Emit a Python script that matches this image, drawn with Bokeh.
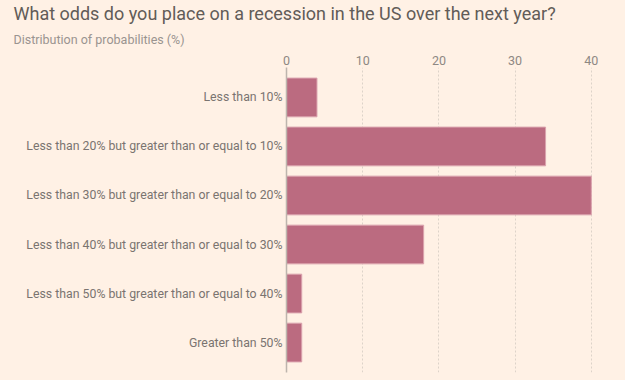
from bokeh.plotting import figure
from bokeh.models import FactorRange, Range1d, Title, FixedTicker
from bokeh.embed import file_html
from bokeh.resources import INLINE

categories = [
    "Less than 10%",
    "Less than 20% but greater than or equal to 10%",
    "Less than 30% but greater than or equal to 20%",
    "Less than 40% but greater than or equal to 30%",
    "Less than 50% but greater than or equal to 40%",
    "Greater than 50%",
]
values = [4, 34, 40, 18, 2, 2]
x_ticks = [0, 10, 20, 30, 40]

BG = "#fff1e5"
FONT = "Roboto"

p = figure(
    width=625, height=380,
    y_range=FactorRange(factors=list(reversed(categories)), range_padding=0.037),
    x_range=Range1d(0, 41.6),
    output_backend="svg", toolbar_location=None,
    x_axis_location="above",
    background_fill_color=BG, border_fill_color=BG,
    min_border_left=286, min_border_right=22, min_border_top=67, min_border_bottom=8,
)
p.outline_line_color = None

p.hbar(y=categories, right=values, left=0, height=0.79,
       fill_color="#bb6b80", line_color="#dba3ae", line_width=1)

# axes
xa = p.xaxis[0]
xa.ticker = FixedTicker(ticks=x_ticks)
xa.axis_line_color = None
xa.major_tick_line_color = None
xa.minor_tick_line_color = None
xa.major_tick_out = 0
xa.major_tick_in = 0
xa.minor_tick_out = 0
xa.major_label_text_font = FONT
xa.major_label_text_font_size = "12.5px"
xa.major_label_text_color = "#8e8883"
xa.major_label_standoff = 3

ya = p.yaxis[0]
ya.axis_line_color = "#bdb5ad"
ya.axis_line_width = 1.5
ya.major_tick_line_color = None
ya.minor_tick_line_color = None
ya.major_tick_out = 0
ya.major_tick_in = 0
ya.minor_tick_out = 0
ya.major_label_text_font = FONT
ya.major_label_text_font_size = "12.3px"
ya.major_label_text_color = "#7a7470"
ya.major_label_standoff = 4

p.ygrid.grid_line_color = None
p.xgrid.ticker = FixedTicker(ticks=[10, 20, 30, 40])
p.xgrid.grid_line_color = "#ddd3c9"
p.xgrid.grid_line_dash = "2 2"
p.xgrid.grid_line_width = 1

# titles
p.title.text = "What odds do you place on a recession in the US over the next year?"
p.title.text_font = FONT
p.title.text_font_size = "18px"
p.title.text_font_style = "normal"
p.title.text_color = "#625c58"
p.title.align = "left"
p.title.offset = -273
p.title.standoff = 0

sub = Title(text="Distribution of probabilities (%)",
            text_font=FONT, text_font_size="12.5px", text_font_style="normal",
            text_color="#9a9490", align="left", offset=-273, standoff=12)
p.add_layout(sub, "above")

html = file_html(p, INLINE)
html = html.replace("<head>", "<head><style>html,body{background:#fff1e5;}</style>", 1)
open("out.html", "w").write(html)
